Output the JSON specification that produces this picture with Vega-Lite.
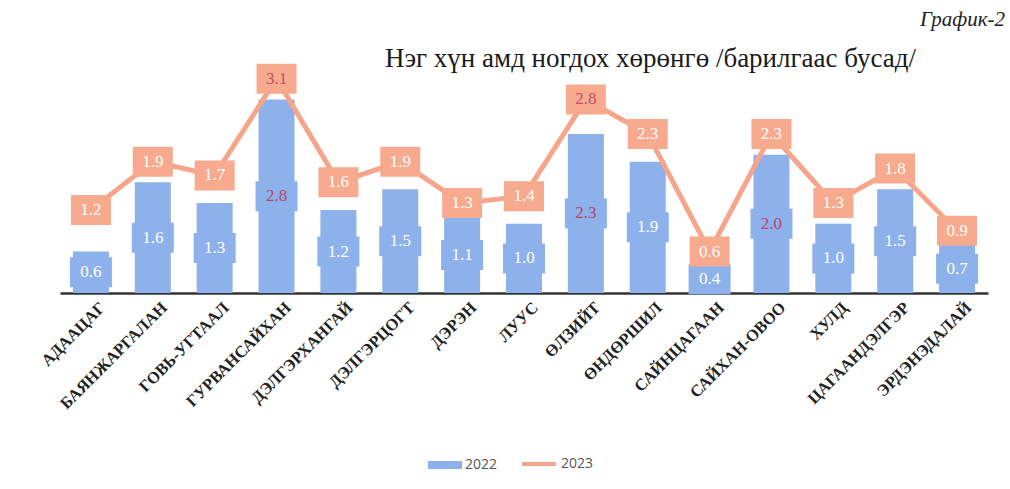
{
  "$schema": "https://vega.github.io/schema/vega-lite/v6.json",
  "width": 928,
  "height": 242,
  "autosize": {"type": "none"},
  "padding": {"left": 60, "top": 51, "right": 22, "bottom": 196},
  "background": "white",
  "title": {
    "text": "График-2",
    "font": "Liberation Serif",
    "fontSize": 21,
    "fontStyle": "italic",
    "fontWeight": "normal",
    "color": "#222",
    "anchor": "end",
    "frame": "group",
    "dx": 17,
    "offset": 14
  },
  "config": {"view": {"stroke": null}},
  "data": {
    "values": [
      {"name": "АДААЦАГ", "v2022": 0.6, "v2023": 1.2},
      {"name": "БАЯНЖАРГАЛАН", "v2022": 1.6, "v2023": 1.9},
      {"name": "ГОВЬ-УГТААЛ", "v2022": 1.3, "v2023": 1.7},
      {"name": "ГУРВАНСАЙХАН", "v2022": 2.8, "v2023": 3.1},
      {"name": "ДЭЛГЭРХАНГАЙ", "v2022": 1.2, "v2023": 1.6},
      {"name": "ДЭЛГЭРЦОГТ", "v2022": 1.5, "v2023": 1.9},
      {"name": "ДЭРЭН", "v2022": 1.1, "v2023": 1.3},
      {"name": "ЛУУС", "v2022": 1.0, "v2023": 1.4},
      {"name": "ӨЛЗИЙТ", "v2022": 2.3, "v2023": 2.8},
      {"name": "ӨНДӨРШИЛ", "v2022": 1.9, "v2023": 2.3},
      {"name": "САЙНЦАГААН", "v2022": 0.4, "v2023": 0.6},
      {"name": "САЙХАН-ОВОО", "v2022": 2.0, "v2023": 2.3},
      {"name": "ХУЛД", "v2022": 1.0, "v2023": 1.3},
      {"name": "ЦАГААНДЭЛГЭР", "v2022": 1.5, "v2023": 1.8},
      {"name": "ЭРДЭНЭДАЛАЙ", "v2022": 0.7, "v2023": 0.9}
    ]
  },
  "transform": [{"calculate": "datum.v2022 / 2", "as": "mid2022"}],
  "encoding": {
    "x": {
      "field": "name",
      "type": "nominal",
      "sort": null,
      "scale": {"paddingInner": 0, "paddingOuter": 0},
      "axis": {
        "title": null,
        "labelAngle": -45,
        "labelFont": "Liberation Serif",
        "labelFontWeight": "bold",
        "labelFontSize": 16.5,
        "labelColor": "#222",
        "labelPadding": 6,
        "labelOffset": 6,
        "ticks": false,
        "domainColor": "#333",
        "domainWidth": 2.5
      }
    }
  },
  "layer": [
    {
      "mark": {"type": "bar", "width": 36},
      "encoding": {
        "y": {
          "field": "v2022",
          "type": "quantitative",
          "scale": {"domain": [0, 3.5], "nice": false},
          "axis": {
            "title": "Нэг хүн амд ногдох хөрөнгө /барилгаас бусад/",
            "titleFont": "Liberation Serif",
            "titleFontWeight": "normal",
            "titleFontSize": 27,
            "titleColor": "#1a1a1a",
            "titleAngle": 0,
            "titleAlign": "center",
            "titleBaseline": "middle",
            "titleX": 590,
            "titleY": 7,
            "labels": false,
            "ticks": false,
            "domain": false,
            "grid": false
          }
        },
        "fill": {
          "datum": "2022",
          "type": "nominal",
          "scale": {"domain": ["2022"], "range": ["#8db1ea"]},
          "legend": {
            "title": null,
            "orient": "none",
            "legendX": 368,
            "legendY": 397,
            "symbolType": "M-1,-0.24H1V0.24H-1Z",
            "symbolSize": 1156,
            "symbolStrokeWidth": 0,
            "labelFont": "Open Sans",
            "labelFontSize": 14,
            "labelColor": "#555",
            "labelOffset": 3
          }
        }
      }
    },
    {
      "mark": {"type": "point", "filled": true, "shape": "M-1,-0.714H1V0.714H-1Z", "size": 1764, "color": "#8db1ea", "opacity": 1},
      "encoding": {"y": {"field": "mid2022", "type": "quantitative"}}
    },
    {
      "mark": {"type": "text", "font": "Liberation Serif", "fontSize": 17, "baseline": "middle", "align": "center"},
      "encoding": {
        "y": {"field": "mid2022", "type": "quantitative"},
        "text": {"field": "v2022", "type": "quantitative", "format": ".1f"},
        "color": {"condition": {"test": "datum.v2022 >= 2", "value": "#b8456a"}, "value": "#ffffff"}
      }
    },
    {
      "mark": {"type": "line", "strokeWidth": 5},
      "encoding": {
        "y": {"field": "v2023", "type": "quantitative"},
        "stroke": {
          "datum": "2023",
          "type": "nominal",
          "scale": {"domain": ["2023"], "range": ["#f5a68a"]},
          "legend": {
            "title": null,
            "orient": "none",
            "legendX": 460,
            "legendY": 394,
            "symbolType": "stroke",
            "symbolSize": 1156,
            "symbolStrokeWidth": 4,
            "labelFont": "Open Sans",
            "labelFontSize": 14,
            "labelColor": "#555",
            "labelOffset": 3
          }
        }
      }
    },
    {
      "mark": {"type": "point", "filled": true, "shape": "M-1,-0.75H1V0.75H-1Z", "size": 1600, "color": "#f7aa8e", "opacity": 1},
      "encoding": {"y": {"field": "v2023", "type": "quantitative"}}
    },
    {
      "mark": {"type": "text", "font": "Liberation Serif", "fontSize": 17, "baseline": "middle", "align": "center"},
      "encoding": {
        "y": {"field": "v2023", "type": "quantitative"},
        "text": {"field": "v2023", "type": "quantitative", "format": ".1f"},
        "color": {"condition": {"test": "datum.v2023 >= 2.5", "value": "#c0506a"}, "value": "#ffffff"}
      }
    }
  ]
}
